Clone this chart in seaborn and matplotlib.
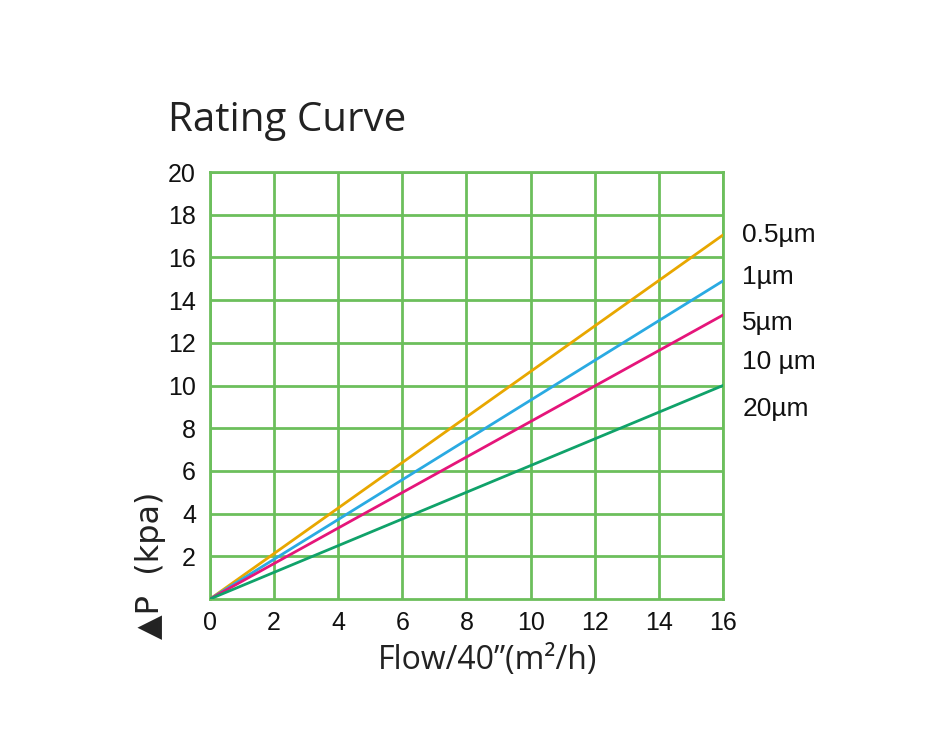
import matplotlib
matplotlib.use("Agg")
import matplotlib.pyplot as plt
import seaborn as sns
import pandas as pd

# Data
flow = [0, 16]
series_names = ["0.5\u00b5m", "1\u00b5m", "5\u00b5m", "20\u00b5m"]
end_dp = [17.05, 14.9, 13.3, 10.0]
colors = ["#e8a700", "#2aaae2", "#e5157a", "#10a26a"]
right_labels = ["0.5\u00b5m", "1\u00b5m", "5\u00b5m", "10 \u00b5m", "20\u00b5m"]
right_label_y = [17.05, 15.1, 12.95, 11.1, 8.9]
xticks = [0, 2, 4, 6, 8, 10, 12, 14, 16]
yticks = [2, 4, 6, 8, 10, 12, 14, 16, 18, 20]

rows = []
for name, e in zip(series_names, end_dp):
    rows.append({"flow": flow[0], "dp": 0.0, "grade": name})
    rows.append({"flow": flow[1], "dp": e, "grade": name})
df = pd.DataFrame(rows)

sns.set_theme(style="white")
plt.rcParams["font.family"] = ["Liberation Sans", "DejaVu Sans"]

fig = plt.figure(figsize=(9.31, 7.47), dpi=100)
ax = fig.add_axes([210/931, 1-599/747, 513/931, 427/747])

sns.lineplot(data=df, x="flow", y="dp", hue="grade", palette=colors,
             hue_order=series_names, ax=ax, linewidth=2.0, legend=False, zorder=3)

ax.set_xlim(0, 16)
ax.set_ylim(0, 20)
ax.set_xticks(xticks)
ax.set_yticks(yticks)
ax.set_xticklabels([str(t) for t in xticks], fontsize=18)
ax.set_yticklabels([str(t) for t in yticks], fontsize=18)
ax.tick_params(axis="y", length=0, pad=10, colors="#111111")
ax.tick_params(axis="x", length=0, pad=9, colors="#111111")
ax.grid(True, color="#6cbf5c", linewidth=2.0)
ax.set_axisbelow(True)
for s in ax.spines.values():
    s.set_color("#6cbf5c")
    s.set_linewidth(2.0)
ax.set_xlabel("")
ax.set_ylabel("")

for lab, yv in zip(right_labels, right_label_y):
    ax.text(16.6, yv, lab, fontsize=19, va="center", ha="left", color="#111111",
            clip_on=False)

fig.text(168/931, 1-121/747, "Rating Curve", fontsize=29, family=["Open Sans", "DejaVu Sans"],
         color="#222222", va="center", ha="left")
fig.text(488/931, 1-660/747, "Flow/40\u201d(m\u00b2/h)", fontsize=23,
         family=["Open Sans", "DejaVu Sans"], color="#222222", va="center", ha="center")
fig.text(150/931, 1-565/747, "\u25b2P\u00a0\u00a0(kpa)", fontsize=23, rotation=90,
         family=["DejaVu Sans"], color="#222222", va="center", ha="center")

fig.savefig("out.png", dpi=100, facecolor="white")
